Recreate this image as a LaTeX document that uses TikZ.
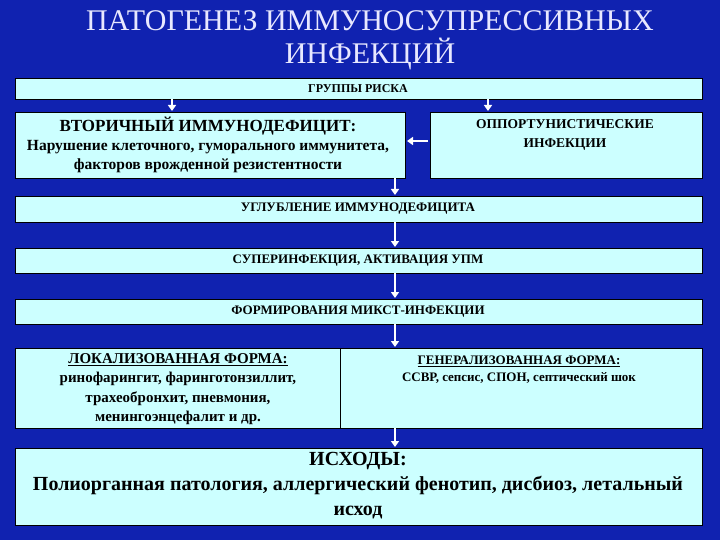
\documentclass[tikz,border=0pt]{standalone}
\usepackage{fontspec}
\setmainfont{Liberation Serif}
\usetikzlibrary{arrows.meta}
\definecolor{bg}{HTML}{1022B0}
\definecolor{bx}{HTML}{CCFFFF}
\definecolor{ttl}{HTML}{E8E8FF}
\tikzset{x=1pt,y=-1pt,
 boxst/.style={fill=bx,draw=black,line width=0.6pt},
 arr/.style={white,line width=1.5pt,-{Triangle[length=6pt,width=8pt]}},
 txt/.style={font=\bfseries,align=center,text=black}}
\begin{document}
\begin{tikzpicture}
\fill[bg] (0,0) rectangle (720,540);
\useasboundingbox (0,0) rectangle (720,540);
\node[text=ttl,font=\fontsize{30}{33}\selectfont,align=center] (title) at (370,40) {ПАТОГЕНЕЗ ИММУНОСУПРЕССИВНЫХ\\ИНФЕКЦИЙ};
\draw[boxst] (15,78) rectangle (702,99);
\node[txt,font=\bfseries\fontsize{12}{13}\selectfont] (g) at (358,89) {ГРУППЫ РИСКА};
\draw[boxst] (15,112) rectangle (405,178);
\node[txt,font=\bfseries\fontsize{15.5}{19}\selectfont,anchor=north] (v) at (208,113) {{\fontsize{17}{19}\selectfont ВТОРИЧНЫЙ ИММУНОДЕФИЦИТ:}\\Нарушение клеточного, гуморального иммунитета,\\факторов врожденной резистентности};
\draw[boxst] (430,112) rectangle (702,178);
\node[txt,font=\bfseries\fontsize{13.5}{19}\selectfont,anchor=north] (o) at (565,116) {ОППОРТУНИСТИЧЕСКИЕ\\ИНФЕКЦИИ};
\draw[boxst] (15,196) rectangle (702,222);
\node[txt,font=\bfseries\fontsize{13}{14}\selectfont] (u) at (358,209) {УГЛУБЛЕНИЕ ИММУНОДЕФИЦИТА};
\draw[boxst] (15,248) rectangle (702,273);
\node[txt,font=\bfseries\fontsize{13}{14}\selectfont] (s) at (358,261) {СУПЕРИНФЕКЦИЯ, АКТИВАЦИЯ УПМ};
\draw[boxst] (15,299) rectangle (702,324);
\node[txt,font=\bfseries\fontsize{13}{14}\selectfont] (f) at (358,312) {ФОРМИРОВАНИЯ МИКСТ-ИНФЕКЦИИ};
\draw[boxst] (15,348) rectangle (702,428);
\draw[black,line width=0.6pt] (340,348) -- (340,428);
\node[txt,font=\bfseries\fontsize{15}{19.5}\selectfont,anchor=north] (l) at (178,350) {\underline{ЛОКАЛИЗОВАННАЯ ФОРМА:}\\ринофарингит, фаринготонзиллит,\\трахеобронхит, пневмония,\\менингоэнцефалит и др.};
\node[txt,font=\bfseries\fontsize{13}{17}\selectfont,anchor=north] (r) at (519,352) {\underline{ГЕНЕРАЛИЗОВАННАЯ ФОРМА:}\\ССВР, сепсис, СПОН, септический шок};
\draw[boxst] (15,448) rectangle (702,525);
\node[txt,font=\bfseries\fontsize{20}{25}\selectfont,anchor=north] (i) at (358,449) {ИСХОДЫ:\\Полиорганная патология, аллергический фенотип, дисбиоз, летальный\\исход};
\draw[arr] (172,99) -- (172,111);
\draw[arr] (488,99) -- (488,111);
\draw[arr] (428,141) -- (407,141);
\foreach \a/\b in {178/195,222/247,273/298,324/347,428/447}
 \draw[arr] (395,\a) -- (395,\b);
\end{tikzpicture}
\end{document}
